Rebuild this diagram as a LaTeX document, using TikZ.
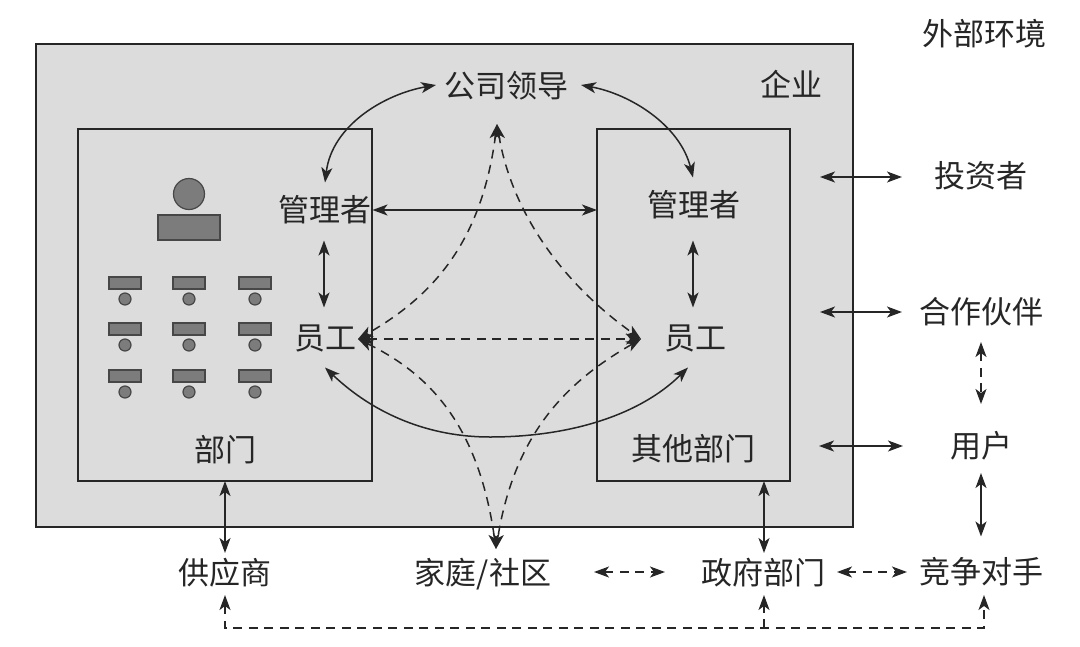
\documentclass[tikz,border=0pt]{standalone}
\usepackage{fontspec}
\setmainfont{Noto Sans CJK SC}
\usetikzlibrary{arrows.meta,calc}
\definecolor{ink}{HTML}{262626}
\definecolor{panel}{HTML}{DCDCDC}
\definecolor{iconfill}{HTML}{7C7C7C}
\tikzset{
  label/.style={inner sep=0pt,outer sep=0pt,text=ink,font=\fontsize{31}{31}\selectfont,text height=27.3pt,text depth=3.7pt,anchor=center},
  box/.style={draw=ink,line width=1.3pt,inner sep=0pt,outer sep=0pt},
  outerbox/.style={box,fill=panel,line width=1.6pt},
  iconrect/.style={draw=ink!85,fill=iconfill,line width=1.2pt,inner sep=0pt,outer sep=0pt},
  iconcirc/.style={iconrect,circle},
  link/.style={draw=ink,line width=1.5pt,{Stealth[length=15pt,width=11pt,inset=4pt]}-{Stealth[length=15pt,width=11pt,inset=4pt]}},
  dlink/.style={link,dash pattern=on 9pt off 6.5pt},
}
\begin{document}
\begin{tikzpicture}[x=1pt,y=-1pt]
\useasboundingbox (0,0) rectangle (1080,646);
% panels
\node[outerbox,minimum width=817pt,minimum height=483pt] (firm) at (444.5,285.5) {};
\node[box,minimum width=294pt,minimum height=352pt] (lbox) at (225,305) {};
\node[box,minimum width=193pt,minimum height=352pt] (rbox) at (693.5,305) {};
% icons
\node[iconcirc,minimum size=31pt] (headc) at (189,194) {};
\node[iconrect,minimum width=62pt,minimum height=25pt] (headr) at (189,227.5) {};
\foreach \col/\cx/\rx in {a/125/125,b/189/189,c/255/255}{
  \foreach \row/\ry/\cy in {p/283/299,q/329/345,r/376/392}{
    \node[iconrect,minimum width=32pt,minimum height=12pt] (desk\col\row) at (\rx,\ry) {};
    \node[iconcirc,minimum size=12pt] (seat\col\row) at (\cx,\cy) {};
  }
}
% labels
\node[label] (env) at (984,34) {外部环境};
\node[label] (firmlabel) at (791,85) {企业};
\node[label] (leader) at (506,86) {公司领导};
\node[label] (mgrL) at (325,210) {管理者};
\node[label] (mgrR) at (694,205) {管理者};
\node[label] (empL) at (325,338) {员工};
\node[label] (empR) at (695,338) {员工};
\node[label] (deptL) at (225,450) {部门};
\node[label] (deptR) at (693,449) {其他部门};
\node[label] (investor) at (981,176) {投资者};
\node[label] (partner) at (981,312) {合作伙伴};
\node[label] (user) at (981,446) {用户};
\node[label] (supplier) at (225,573) {供应商};
\node[label] (family) at (483,573) {家庭/社区};
\node[label] (gov) at (763,573) {政府部门};
\node[label] (rival) at (981,572) {竞争对手};
% free ends
\coordinate (portI) at (820,177);
\coordinate (portP) at (820,312);
\coordinate (portU) at (819,446);
\coordinate (busL) at (225,628);
\coordinate (busM) at (764,628);
\coordinate (busR) at (984,628);
% solid curved links
\draw[link] ([xshift=-8pt,yshift=1pt]leader.west) .. controls (385,94) and (332,125) .. ([yshift=12pt]mgrL.north);
\draw[link] ([xshift=13pt,yshift=1pt]leader.east) .. controls (630,94) and (680,125) .. ([xshift=-1pt,yshift=12pt]mgrR.north);
\draw[link] ([yshift=-14pt]empL.south) .. controls (375,415) and (430,437) .. (490,437) .. controls (570,437) and (640,415) .. ([xshift=-7pt,yshift=-14pt]empR.south);
% solid straight links
\draw[link] ([xshift=1pt]mgrL.east) -- (mgrL.east -| rbox.west);
\draw[link] ([xshift=-1pt,yshift=-15pt]mgrL.south) -- ([yshift=15pt,xshift=-1pt]empL.north);
\draw[link] ([xshift=-1pt,yshift=-20pt]mgrR.south) -- ([xshift=-2pt,yshift=15pt]empR.north);
\draw[link] (lbox.south) -- ([yshift=4.5pt]supplier.north);
\draw[link] ([xshift=1pt]gov.north |- rbox.south) -- ([xshift=1pt,yshift=4.5pt]gov.north);
\draw[link] (portI) -- ([xshift=-32.5pt,yshift=-1pt]investor.west);
\draw[link] (portP) -- ([xshift=-17pt]partner.west);
\draw[link] (portU) -- ([xshift=-47pt]user.west);
\draw[link] ([yshift=-11.5pt]user.south) -- ([yshift=20pt]rival.north);
% dashed links
\draw[dlink] ([xshift=-9pt,yshift=-22.5pt]leader.south) .. controls (482,240) and (435,295) .. ([xshift=2pt,yshift=-1pt]empL.east);
\draw[dlink] ([xshift=-9pt,yshift=-22.5pt]leader.south) .. controls (512,215) and (565,285) .. ([xshift=-23pt,yshift=-1pt]empR.west);
\draw[dlink] ([xshift=2pt,yshift=-1pt]empL.east) .. controls (425,372) and (478,420) .. ([xshift=13pt,yshift=8.5pt]family.north);
\draw[dlink] ([xshift=-23pt,yshift=-1pt]empR.west) .. controls (570,380) and (515,430) .. ([xshift=13pt,yshift=8.5pt]family.north);
\draw[dlink] ([xshift=2pt,yshift=-1pt]empL.east) -- ([xshift=-23pt,yshift=-1pt]empR.west);
\draw[dlink] ([xshift=111pt,yshift=1pt]family.center) -- ([xshift=-36pt,yshift=1pt]gov.west);
\draw[dlink] ([xshift=12pt,yshift=1pt]gov.east) -- ([xshift=-12pt]rival.west);
\draw[dlink] ([yshift=-14.5pt]partner.south) -- ([yshift=26.5pt]user.north);
\draw[dlink] ([yshift=-6.5pt]supplier.south) -- (busL) -- (busR) -- ([xshift=3pt,yshift=-7.5pt]rival.south);
\draw[draw=ink,line width=1.5pt,dash pattern=on 9pt off 6.5pt,-{Stealth[length=15pt,width=11pt,inset=4pt]}] (busM) -- ([xshift=1pt,yshift=-6.5pt]gov.south);
\end{tikzpicture}
\end{document}
